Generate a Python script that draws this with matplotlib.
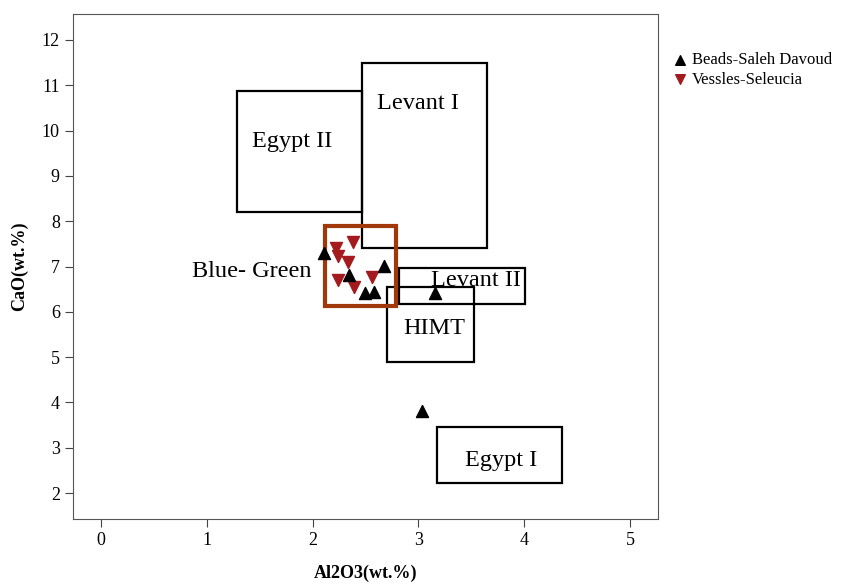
import matplotlib
matplotlib.use("Agg")
import matplotlib.pyplot as plt
from matplotlib.patches import Rectangle

plt.rcParams['font.family'] = ['Liberation Serif', 'DejaVu Serif']

# scatter data (Al2O3, CaO)
beads_x = [2.11, 2.34, 2.675, 2.495, 2.58, 3.16, 3.03]
beads_y = [7.29, 6.81, 7.01, 6.41, 6.44, 6.41, 3.81]
vessels_x = [2.385, 2.218, 2.236, 2.33, 2.236, 2.39, 2.56]
vessels_y = [7.53, 7.40, 7.23, 7.09, 6.70, 6.55, 6.77]

# reference fields: name, x0, x1, y0, y1
fields = ["Egypt II", "Levant I", "Levant II", "HIMT", "Egypt I"]
field_x0 = [1.285, 2.467, 2.82, 2.70, 3.18]
field_x1 = [2.467, 3.65, 4.01, 3.53, 4.36]
field_y0 = [8.20, 7.41, 6.17, 4.89, 2.22]
field_y1 = [10.87, 11.49, 6.97, 6.55, 3.46]
label_x = [1.81, 3.0, 3.54, 3.15, 3.78]
label_y = [9.75, 10.59, 6.70, 5.64, 2.71]

bg_box = [2.117, 2.79, 6.13, 7.89]

fig = plt.figure(figsize=(8.47, 5.84), dpi=100)
ax = fig.add_axes([73/847, 65/584, 585/847, 505/584])

for i in range(len(fields)):
    ax.add_patch(Rectangle((field_x0[i], field_y0[i]), field_x1[i]-field_x0[i],
                           field_y1[i]-field_y0[i], fill=False, ec='black', lw=1.6, zorder=2))
    ax.text(label_x[i], label_y[i], fields[i], fontsize=17.5, ha='center', va='center', zorder=3)

ax.add_patch(Rectangle((bg_box[0], bg_box[2]), bg_box[1]-bg_box[0], bg_box[3]-bg_box[2],
                       fill=False, ec='#A0380A', lw=3, zorder=2))
ax.text(1.42, 6.88, "Blue- Green", fontsize=17.5, ha='center', va='center')

ax.scatter(beads_x, beads_y, marker='^', s=75, color='black', zorder=5, label='Beads-Saleh Davoud')
ax.scatter(vessels_x, vessels_y, marker='v', s=75, color='#A31B1F', zorder=4, label='Vessles-Seleucia')

ax.set_xlim(-0.265, 5.265)
ax.set_ylim(1.43, 12.57)
ax.set_xticks([0, 1, 2, 3, 4, 5])
ax.set_yticks(range(2, 13))
ax.tick_params(labelsize=13, direction='out', length=6, color='#444444')
for s in ax.spines.values():
    s.set_color('#555555')
ax.set_xlabel('Al2O3(wt.%)', fontsize=13, fontweight='bold', labelpad=11)
ax.set_ylabel('CaO(wt.%)', fontsize=13, fontweight='bold', labelpad=10)

fig.legend(loc='upper left', bbox_to_anchor=(662/847, 1-44/584), frameon=False,
           fontsize=12, handletextpad=0.1, borderpad=0, labelspacing=0.2,
           handlelength=1.2, markerscale=0.8)

plt.savefig('out.png', dpi=100)
